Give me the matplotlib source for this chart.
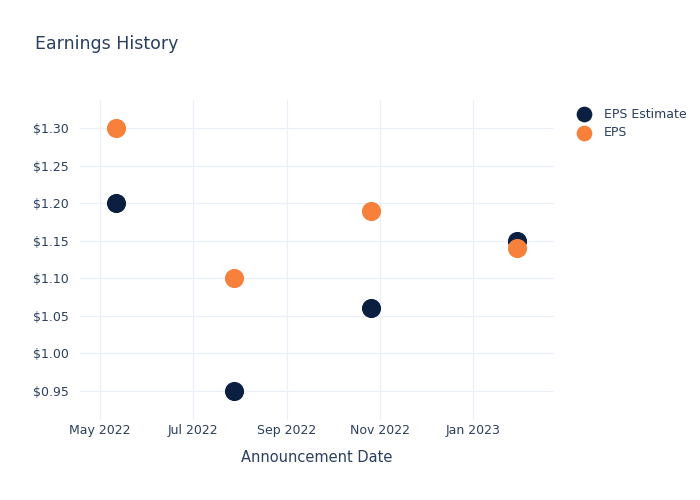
import matplotlib
matplotlib.use("Agg")
import matplotlib.pyplot as plt
import numpy as np

# earnings data
dates = np.array(["2022-05-12", "2022-07-28", "2022-10-26", "2023-01-30"], dtype="datetime64[D]")
eps_estimate = [1.20, 0.95, 1.06, 1.15]
eps_actual = [1.30, 1.10, 1.19, 1.14]

tick_dates = np.array(["2022-05-01", "2022-07-01", "2022-09-01", "2022-11-01", "2023-01-01"], dtype="datetime64[D]")
tick_labels = ["May 2022", "Jul 2022", "Sep 2022", "Nov 2022", "Jan 2023"]
y_ticks = [0.95, 1.00, 1.05, 1.10, 1.15, 1.20, 1.25, 1.30]

text_color = "#2a3f5f"
grid_color = "#ebf0f8"
navy = "#0b1f41"
orange = "#f7803a"

fig = plt.figure(figsize=(7, 5), dpi=100)
ax = fig.add_axes([0.114, 0.16, 0.677, 0.64])

ax.scatter(dates, eps_estimate, s=190, color=navy, label="EPS Estimate", zorder=3, linewidths=0)
ax.scatter(dates, eps_actual, s=190, color=orange, label="EPS", zorder=4, linewidths=0)

ax.set_xlim(np.datetime64("2022-04-18"), np.datetime64("2023-02-23"))
ax.set_ylim(0.9114, 1.3373)

ax.set_xticks(tick_dates)
ax.set_xticklabels(tick_labels)
ax.set_yticks(y_ticks)
ax.set_yticklabels(["${:.2f}".format(v) for v in y_ticks])

ax.tick_params(length=0, labelsize=9, colors=text_color)
ax.tick_params(axis="x", pad=3)
ax.tick_params(axis="y", pad=8)
ax.grid(True, color=grid_color, linewidth=0.9)
ax.set_axisbelow(True)
for s in ax.spines.values():
    s.set_visible(False)

ax.set_xlabel("Announcement Date", fontsize=10.5, color=text_color, labelpad=9)

fig.text(0.05, 0.912, "Earnings History", fontsize=12.5, color=text_color, va="center")

ax.legend(loc="upper left", bbox_to_anchor=(1.013, 1.011), frameon=False,
          fontsize=9, labelcolor=text_color, handletextpad=0.6,
          labelspacing=0.45, markerscale=0.82)

fig.savefig("out.png", dpi=100)
